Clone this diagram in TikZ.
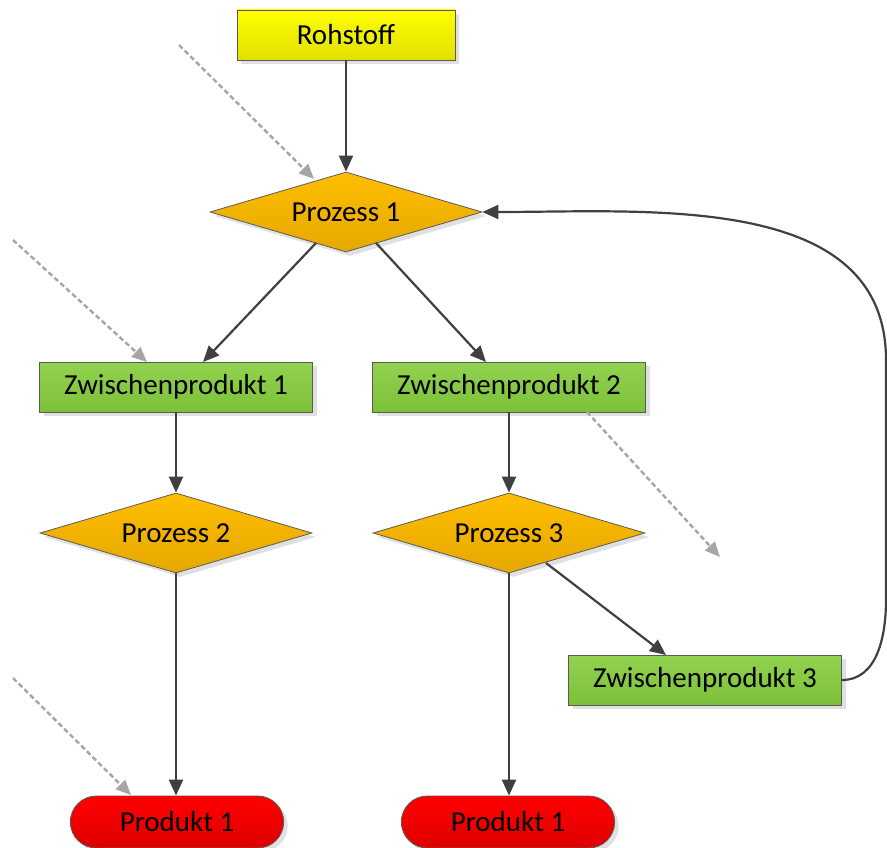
\documentclass[tikz,border=0pt]{standalone}
\usepackage{fontspec}
\setmainfont{Carlito}
\usetikzlibrary{shapes.geometric,shapes.misc,shadows,arrows.meta}
\definecolor{linedark}{HTML}{404040}
\definecolor{dashgray}{HTML}{A6A6A6}
\definecolor{edgegray}{HTML}{5A5A5A}
\begin{document}
\begin{tikzpicture}[x=1pt,y=-1pt,
  every node/.style={font=\fontsize{29}{34}\selectfont, text=black},
  base/.style={draw=edgegray, line width=0.8pt,
    drop shadow={shadow xshift=4pt, shadow yshift=-4pt, fill=black!12, opacity=1}},
  rawbox/.style={base, rectangle, minimum width=218pt, minimum height=50pt,
    top color=yellow, bottom color=yellow!88!black},
  interbox/.style={base, rectangle, minimum width=273pt, minimum height=50pt,
    top color={rgb,255:red,146;green,210;blue,80}, bottom color={rgb,255:red,124;green,192;blue,56}},
  procbox/.style={base, diamond, aspect=3.4, inner sep=0pt, minimum width=272pt, minimum height=80pt,
    top color={rgb,255:red,255;green,190;blue,0}, bottom color={rgb,255:red,228;green,168;blue,0}},
  endbox/.style={base, rounded rectangle, minimum width=220pt, minimum height=52pt,
    top color={rgb,255:red,255;green,0;blue,0}, bottom color={rgb,255:red,222;green,0;blue,0}},
  flow/.style={draw=linedark, line width=2.2pt, -{Triangle[length=16pt,width=14pt]}},
  feed/.style={draw=dashgray, line width=2.4pt, dash pattern=on 5pt off 3pt,
    -{Triangle[length=15pt,width=13pt]}}
]
\useasboundingbox (0,0) rectangle (887,848);

% nodes
\node[rawbox]   (raw)  at (346,35)  {Rohstoff};
\node[procbox]  (p1)   at (346,212) {Prozess 1};
\node[interbox] (z1)   at (176,387) {Zwischenprodukt 1};
\node[interbox] (z2)   at (509,387) {Zwischenprodukt 2};
\node[procbox]  (p2)   at (176,533) {Prozess 2};
\node[procbox]  (p3)   at (509,533) {Prozess 3};
\node[interbox] (z3)   at (705,680) {Zwischenprodukt 3};
\node[endbox]   (e1)   at (177,822) {Produkt 1};
\node[endbox]   (e2)   at (508,822) {Produkt 1};

% main flow
\draw[flow] (raw.south) -- (p1.north);
\draw[flow] (316,243) -- (203,362);
\draw[flow] (376,243) -- (486,362);
\draw[flow] (z1.south) -- (p2.north);
\draw[flow] (z2.south) -- (p3.north);
\draw[flow] (p2.south) -- (e1.north -| p2.south);
\draw[flow] (p3.south) -- (e2.north -| p3.south);
\draw[flow] (546,563) -- (666,655);

% feedback loop
\coordinate (loopA) at (886,600);
\coordinate (loopB) at (886,360);
\draw[flow] (z3.east) to[out=0,in=-90] (loopA) -- (loopB) to[out=90,in=0] (p1.east);

% external inputs
\coordinate (in1) at (179,45);
\coordinate (in1t) at (314,179);
\coordinate (in2) at (13,240);
\coordinate (in2t) at (147,362);
\coordinate (out2) at (587,412);
\coordinate (out2t) at (720,557);
\coordinate (in4) at (13,678);
\coordinate (in4t) at (131,795);
\draw[feed] (in1) -- (in1t);
\draw[feed] (in2) -- (in2t);
\draw[feed] (out2) -- (out2t);
\draw[feed] (in4) -- (in4t);
\end{tikzpicture}
\end{document}
